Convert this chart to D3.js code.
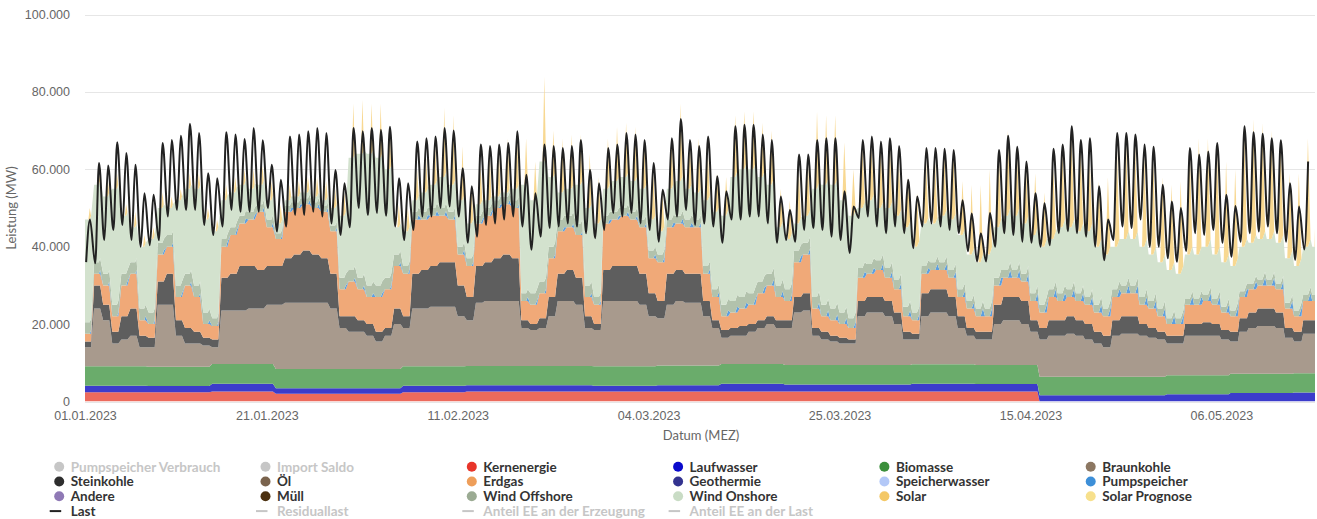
<!DOCTYPE html>
<html lang="de">
<head>
<meta charset="utf-8">
<style>
  body { margin: 0; background: #fff; }
  svg { font-family: Lato, "Open Sans", sans-serif; display: block; }
  .grid line { stroke: #e6e6e6; }
  .axis text { fill: #666; font-size: 12.5px; }
  .legend text { font-size: 13.5px; font-weight: bold; }
</style>
</head>
<body>
<svg width="1317" height="519"></svg>
<script src="https://cdn.jsdelivr.net/npm/d3@7"></script>
<script>
// Werte in GW (1 = 1.000 MW); Tagesreihen beginnen am 01.01.2023
// Wochenreihen: ein Wert je Woche (Woche 0 = 01.01.-07.01.)
var kernenergie = [2.4,2.4,2.6,2.0,2.0,2.4,2.6,2.6,2.6,2.6,2.6,2.6,2.6,2.6,2.6,0,0,0,0,0];
var laufwasser  = [1.7,1.6,2.0,1.4,1.4,1.7,1.6,1.6,1.5,1.6,2.0,1.8,1.8,2.0,1.9,1.6,1.6,1.9,2.2,2.3];
var biomasse    = [5.0,5.0,5.1,5.0,5.0,5.0,5.0,5.0,5.0,5.1,5.1,5.0,5.0,5.0,4.9,4.8,4.8,4.9,5.0,5.0];
var windOffshore= [3,3,2,1.5,3,2,2,3,2,2,3,3,2.5,2,2,2,2,1.5,1.5,1.5];
var pumpspeicher= [1,1,1.2,1,1,1.2,1,1,1,1.2,1.5,1.5,1.5,1.5,2,2,2,2,2,2];
// Beginn / Ende der Solarerzeugung je Woche (Stunde, MEZ)
var solarBeginn = [9,9,9,8.5,8.5,8.5,8,8,8,7.5,7.5,7.5,7,7,7,6.5,6.5,6,6,6];
var solarEnde   = [16,16,16,16.5,16.5,17,17,17,17.5,17.5,18,18,18.5,18.5,18.5,19,19,19.5,19.5,19.5];

// Tageswerte (Erzeugung)
var braunkohle = [
  4.9,14.9,11.9,5.9,6.9,7.9,4.9,  5,16,16,8,6,6,5.5,  4.3,13.8,13.8,13.8,14.3,14.3,15.3,
  16.6,17.1,17.1,17.1,17.1,17.1,15.6,  10.6,9.6,9.6,8.6,7.1,8.6,11.6,  9.9,14.9,14.9,15.4,15.4,15.4,12.9,
  11.8,16.3,16.8,16.8,16.8,16.8,9.8,  9.3,9.8,12.8,16.8,16.8,15.8,9.8,  9.4,16.9,16.9,16.9,16.9,15.9,12.9,
  12.2,15.7,16.7,16.2,16.2,12.7,9.7,  6.8,7.3,7.3,8.3,9.3,10.3,9.3,  9.6,13.6,14.1,7.6,6.6,6.1,5.6,
  5.6,12.6,13.6,13.6,12.6,10.6,6.6,  6.4,12.4,13.4,13.4,12.4,9.4,7.4,  6.6,6.6,10.6,11.6,11.6,10.6,8.6,
  9.6,10.6,10.6,11.1,10.6,9.6,8.6,  7.6,10.6,11.1,11.1,10.6,10.1,9.6,  8.2,8.2,10.2,10.2,10.2,10.2,9.2,
  8.3,10.8,11.8,12.3,12.3,11.8,9.3,  8.2,10.2,10.2];
var steinkohle = [
  1.5,6,4,3,6,7,3,  2.5,6,8,4,4,3,2,  2,8.5,9.5,11.5,11,10,10,
  10,11.5,12.5,13.5,12.5,11.5,9,  3,4,3,3,2.5,2,4,  3,9,10,10.5,11.5,11.5,8,
  6,9.5,10,11,12,11,2,  1.5,2.5,5,7,8,7,3,  1.5,8,9,9,9,8,6,
  4.5,8,8,7.5,7.5,4,2,  2,2,2.5,2,2,2,2,  2,4,4.5,2,2,1.5,1.5,
  1,4,4,4,4,3,2,  1.5,6,6,6,5,3,2,  2,2,5,6,6,6,3,
  3,4,4,4.5,4,4,3,  3,4,4.5,4.5,3,2.5,2,  2,2,3,3,3.5,3,2.5,
  2.5,3.5,4,4.5,4.5,4,2.5,  2.5,3.5,3.5];
var erdgas = [
  2,3,5,4,8,9,4,  3.5,7,7,6,11,9,3.5,  3.5,8,10,11,12,15,10,
  7,12,12,12,12,12,11,  7,9,8,7,9,10,11,  11,14,13,13,12,11,8,
  8,11,12,13,13,13,5,  5,6.5,10,11,11,11,5,  5,12,12,13,12,12,9,
  10,12,12,12,12,7,6,  3.5,4,4.5,5,7,8,6,  5,9,10,5,4,4,3.5,
  3,6,6,7,6,6,4,  3.5,5,5,5,5,5,5,  4,4,5,5,5,5,5,
  4,6,5,5,5,5,5,  5,6,6,6,5,5,4,  3,3,5,5,5.5,5,4.5,
  4,5.5,6,6,6,6,5,  4,5,5];
var windOnshore = [
  26.5,20,20,30,15,9,16,  19,9,7,22,22,25,24,  22.5,10,9,8,6,5,5,
  2.5,1.5,1.5,1.5,1.5,1.5,4.5,  16,29,32,34,33,28,7,  9,3,5,6,8,7,12,
  9,3,2,1,1,3,28,  24,31,18,7,7,10,20,  19,7,8,8,8,8,8,
  6,8,9,8,7,17,20,  23,32,33,32,27,23,15,  13,7,7,28,31,32,29,
  26.5,15.5,16.5,13.5,15.5,16.5,20.5,  17,11,10,12,13,14,12,  12,14,13,14,14,13,15,
  15,13,17,16,16,17,15,  14,11,12,12,13,12,12,  12.5,11.5,11.5,11.5,12.5,11.5,11.5,
  11.5,11.5,10.5,10.5,10.5,10.5,11.5,  11.5,12.5,12.5];
// Solar: Mittagsspitze je Tag
var solar = [
  3,3,4,4,3,4,3,  3,4,3,3,4,4,3,  3,4,4,4,5,5,5,
  5,4,4,4,5,5,5,  6,14,14,13,14,11,6,  6,8,9,10,18,18,14,
  10,10,12,12,14,15,12,  10,22,12,14,14,13,14,  12,13,14,14,14,12,12,
  10,13,20,12,14,12,10,  10,16,15,15,14,14,10,  10,14,14,20,18,18,15,
  12,16,14,16,18,14,13,  14,16,16,17,18,14,18,  20,22,20,22,16,14,16,
  14,18,20,24,22,18,17,  20,25,26,25,24,24,22,  22,24,28,30,28,28,26,
  25,30,32,30,28,26,22,  24,28,26];

// Last: Tagesspitze (mittags) und Nachttief
var lastHoch = [
  47,61.6,61,67,64.2,61.2,53.8,  53.4,66.8,67.6,68.7,71.8,69.4,59,  57.7,69.6,69,67.8,70.7,67.5,61.2,
  57.3,68.5,69,69.8,70.7,69.4,59.8,  56.4,70.7,69.8,70.7,70.2,71,57.7,  56.4,67.2,68,68.5,70.7,70,60.3,
  55.6,66.4,66,66.4,66.8,69.8,58.6,  53.8,66.4,66,65.5,66,67.6,59.9,  56.4,65.5,66.4,69.4,69,67.6,61.6,
  54.7,68,73,67.6,66,68.5,58.2,  54.3,71.1,71.5,71.5,69,67.6,53,  49.5,63.8,63.8,67.6,68,68,54.3,
  50.4,67.6,68.5,67.2,68,66,57.3,  53,65.5,65.5,65.3,65,52,48.6,  43.5,48.7,65,68.7,65.8,62,53.8,
  51.2,65.3,66.4,71.1,67.6,68,55.6,  47,69.4,69.4,69,66.4,65.8,56,  51.7,50,65.5,63.8,64.6,66.8,53.4,
  50.5,71.1,69.6,69.2,68,67.5,56.4,  50.4,62];
var lastTief = [
  36,35.7,41.7,44.3,45.6,41.7,40,  40.4,41.7,47.8,49.5,49.5,49.5,45.6,  43,45.2,49.5,49,49,49,50,
  43.9,45.2,48.2,48.2,49,47.8,46,  43,45,50,48.2,48.7,48,45.2,  41.7,44.3,47.8,47.8,50,50.4,47.8,
  41,42.6,45.6,46,47,47.8,45.2,  39.2,42.6,44.8,45.2,46,45.2,43.5,  42.2,44.3,48.7,47.8,48.7,46,44.3,
  41.3,47,47.8,49.5,45.6,46,45.2,  41,47,47,47.8,47.8,46,41,  41.7,41.3,44.3,44.8,44.3,42.6,41.7,
  38.4,47.4,47.8,45.2,43.5,45.2,43.5,  39.6,45.2,46,45.2,44.3,43.5,38.8,  36.2,36.2,40,43.5,43,41.3,41,
  40,40.4,43.5,44,43.5,42.6,40,  36.5,41.7,45.2,44.8,47,40,40,  37,36.1,38.9,43.5,43,44.3,41,
  37.4,41.3,43.5,43.9,45.2,43.5,41.3,  36.6,39.3];

var tickDates = ["2023-01-01","2023-01-21","2023-02-11","2023-03-04","2023-03-25","2023-04-15","2023-05-06"];

var svg = d3.select("svg"),
    margin = {left: 85, right: 2, top: 14.5, bottom: 117.5},
    width = +svg.attr("width"),
    height = +svg.attr("height");

var t0 = Date.UTC(2023, 0, 1);
function at(day, hour) { return new Date(t0 + (day * 24 + hour) * 36e5); }

var x = d3.scaleUtc()
    .domain([at(0, 0), at(135, 7.2)])
    .range([margin.left, width - margin.right]);
var y = d3.scaleLinear()
    .domain([0, 100])
    .range([height - margin.bottom, margin.top]);

var de = d3.formatLocale({decimal: ",", thousands: ".", grouping: [3], currency: ["", " €"]});
var fmtMW = de.format(",");

// Zeilen für den Stapel: Mitternacht, Solarbeginn, Mittag, Solarende
var rows = [];
d3.range(braunkohle.length).forEach(function (d) {
    var w = Math.floor(d / 7);
    [0, solarBeginn[w], 12.5, solarEnde[w]].forEach(function (h, k) {
        rows.push({
            date: at(d, h),
            kern: kernenergie[w],
            lauf: laufwasser[w],
            bio: biomasse[w],
            braun: braunkohle[d],
            stein: steinkohle[d],
            gas: erdgas[d],
            pump: k === 3 ? pumpspeicher[w] : 0,
            off: windOffshore[w],
            on: windOnshore[d],
            solar: k === 2 ? solar[d] : 0
        });
    });
});

var keys = ["kern", "lauf", "bio", "braun", "stein", "gas", "pump", "off", "on", "solar"];
var fills = {
    kern: "#ec6a5c", lauf: "#3c3ccb", bio: "#6aac6b", braun: "#a89a8d", stein: "#5e5e5e",
    gas: "#f0a978", pump: "#5d9fe0", off: "#b2c2ac", on: "#d3e2ce", solar: "#f8d891"
};

var series = d3.stack().keys(keys)(rows);

// gridlines
svg.append("g").attr("class", "grid")
    .selectAll("line")
    .data(y.ticks(5))
    .enter().append("line")
    .attr("x1", margin.left).attr("x2", width - margin.right)
    .attr("y1", function (d) { return Math.round(y(d)) + 0.5; })
    .attr("y2", function (d) { return Math.round(y(d)) + 0.5; });

svg.append("defs").append("clipPath").attr("id", "plot")
    .append("rect")
    .attr("x", margin.left).attr("y", margin.top)
    .attr("width", width - margin.left - margin.right)
    .attr("height", height - margin.top - margin.bottom);

var area = d3.area()
    .x(function (d) { return x(d.data.date); })
    .y0(function (d) { return y(d[0]); })
    .y1(function (d) { return y(d[1]); });

svg.append("g").attr("clip-path", "url(#plot)")
    .selectAll("path")
    .data(series)
    .enter().append("path")
    .attr("fill", function (d) { return fills[d.key]; })
    .attr("d", area);

// Last
var lastPts = [];
lastHoch.forEach(function (v, d) {
    lastPts.push({date: at(d, 3), v: lastTief[d]});
    lastPts.push({date: at(d, 13), v: v});
});
svg.append("path")
    .datum(lastPts)
    .attr("clip-path", "url(#plot)")
    .attr("fill", "none")
    .attr("stroke", "#222")
    .attr("stroke-width", 2)
    .attr("stroke-linejoin", "round")
    .attr("d", d3.line()
        .curve(d3.curveMonotoneX)
        .x(function (d) { return x(d.date); })
        .y(function (d) { return y(d.v); }));

// axes
var yAxis = svg.append("g").attr("class", "axis")
    .attr("transform", "translate(70,0)")
    .call(d3.axisLeft(y).ticks(5).tickSize(0).tickPadding(0)
        .tickFormat(function (d) { return fmtMW(d * 1000); }));
yAxis.select(".domain").remove();

var xAxis = svg.append("g").attr("class", "axis")
    .attr("transform", "translate(0," + (height - margin.bottom) + ")")
    .call(d3.axisBottom(x).tickSize(0).tickPadding(10)
        .tickValues(tickDates.map(function (s) { return new Date(s + "T00:00:00Z"); }))
        .tickFormat(d3.utcFormat("%d.%m.%Y")));
xAxis.select(".domain").remove();

svg.append("text")
    .attr("transform", "translate(16,208) rotate(-90)")
    .attr("text-anchor", "middle")
    .attr("fill", "#666").attr("font-size", 13)
    .text("Leistung (MW)");

svg.append("text")
    .attr("x", 701).attr("y", 440)
    .attr("text-anchor", "middle")
    .attr("fill", "#666").attr("font-size", 13)
    .text("Datum (MEZ)");

// legend
var legendItems = [
    {name: "Pumpspeicher Verbrauch", color: "#c6c6c6", off: true},
    {name: "Import Saldo", color: "#c6c6c6", off: true},
    {name: "Kernenergie", color: "#e8352a"},
    {name: "Laufwasser", color: "#0a0acc"},
    {name: "Biomasse", color: "#3b8f3b"},
    {name: "Braunkohle", color: "#8c7762"},
    {name: "Steinkohle", color: "#2e2e2e"},
    {name: "Öl", color: "#7a634d"},
    {name: "Erdgas", color: "#ee9e5a"},
    {name: "Geothermie", color: "#33338f"},
    {name: "Speicherwasser", color: "#b3c8f7"},
    {name: "Pumpspeicher", color: "#3d8fd8"},
    {name: "Andere", color: "#8f79b5"},
    {name: "Müll", color: "#4b300f"},
    {name: "Wind Offshore", color: "#9bab93"},
    {name: "Wind Onshore", color: "#c9dcc5"},
    {name: "Solar", color: "#f4c866"},
    {name: "Solar Prognose", color: "#f7e08c"},
    {name: "Last", color: "#222", line: true},
    {name: "Residuallast", color: "#c6c6c6", line: true, off: true},
    {name: "Anteil EE an der Erzeugung", color: "#c6c6c6", line: true, off: true},
    {name: "Anteil EE an der Last", color: "#c6c6c6", line: true, off: true}
];

var legend = svg.append("g").attr("class", "legend")
    .selectAll("g")
    .data(legendItems)
    .enter().append("g")
    .attr("transform", function (d, i) {
        return "translate(" + (70.7 + (i % 6) * 206.3) + "," + (466.7 + Math.floor(i / 6) * 14.8) + ")";
    });

legend.filter(function (d) { return !d.line; })
    .append("circle")
    .attr("cx", -11.5).attr("cy", 0).attr("r", 5)
    .attr("fill", function (d) { return d.color; });

legend.filter(function (d) { return d.line; })
    .append("line")
    .attr("x1", -21).attr("x2", -9.5)
    .attr("stroke", function (d) { return d.color; })
    .attr("stroke-width", 2);

legend.append("text")
    .attr("y", 4.8)
    .attr("fill", function (d) { return d.off ? "#c6c6c6" : "#333"; })
    .text(function (d) { return d.name; });
</script>
</body>
</html>
